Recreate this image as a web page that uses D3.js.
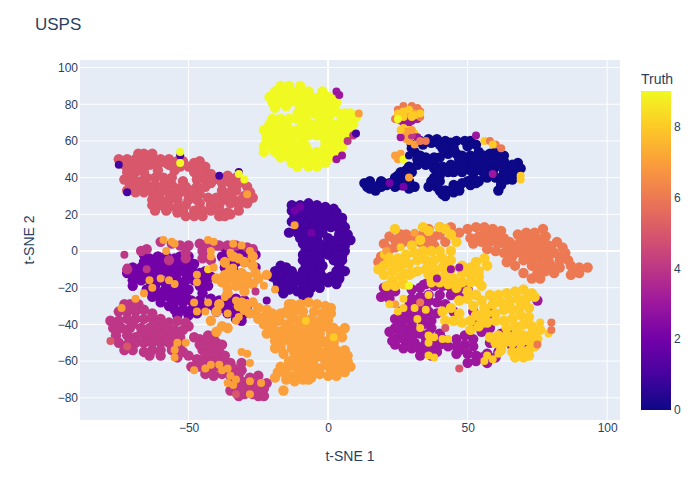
<!DOCTYPE html>
<html>
<head>
<meta charset="utf-8">
<script src="https://cdn.jsdelivr.net/npm/d3@7"></script>
<style>
  html, body { margin: 0; padding: 0; background: #fff; }
  text { font-family: "Liberation Sans", Arial, sans-serif; fill: #2a3f5f; }
</style>
</head>
<body>
<svg id="chart" width="700" height="500"></svg>
<script>
// values, one array per digit class
var truth0 = [[13,37],[15,38],[17,35],[19,38],[20,37],[15,34],[17,33],[22,37],[14,35],[19,35],[21,36],[24,35],
  [25,41],[28,44],[29,46],[25,38],[27,40],[26,36],[29,34],[31,35],[29,38],[26,43],[30,43],[24,40],[28,41],[28,36],
  [30,58],[33,60],[36,61],[39,61],[42,60],[41,56],[43,53],[31,54],[32,50],[35,51],[38,51],[40,51],[32,47],[35,47],[34,58],[37,59],[40,58],[42,57],[33,52],[34,49],[37,49],[38,48],[30,56],
  [38,45],[41,46],[44,47],[47,48],[50,49],[53,50],[40,41],[43,43],[46,45],[49,46],[52,47],[55,47],[38,40],[38,36],[36,35],[40,38],[40,33],[42,30],[45,32],[45,36],[48,37],[51,36],[54,38],[57,40],[52,40],[53,44],[57,46],[59,50],[58,53],[60,54],[63,52],[63,49],[57,42],[60,40],[62,36],[61,33],[64,39],[66,42],[63,43],[65,46],[68,48],[69,45],
  [46,60],[44,59],[44,55],[49,60],[51,60],[53,58],[54,54],[51,52],[48,52],[46,53],[45,56],[56,52],[42,33],[39,35],[47,33],[60,46],[63,46],[66,39],[42,44],[45,43],[48,43],[51,44],[39,43],[37,38],[41,31],[44,33],[50,38],[53,37],[56,42],[55,44],[59,48],[61,50],[59,43],[62,40],[62,38],[64,42],[67,44],[66,47],[50,57],[47,50],[52,50],[56,50]];
var truth1 = [[-13,25],[-10,25],[-7,26],[-4,25],[-1,24],[2,23],[-13,22],[-9,22],[-6,22],[-3,22],[0,22],[3,21],
  [-12,19],[-9,19],[-6,19],[-3,19],[0,19],[3,19],[5,18],[-13,16],[-10,16],[-7,16],[-4,16],[-1,16],[2,16],[5,15],[6,13],
  [-11,13],[-8,13],[-5,13],[-2,13],[1,13],[4,12],[-14,10],[-11,10],[-8,10],[-5,10],[-2,10],[4,9],[7,9],[-10,7],[-7,7],[-4,7],[0,7],[3,6],[6,6],[8,6],
  [-9,4],[-6,4],[-3,4],[0,4],[3,3],[6,3],[-8,1],[-5,1],[-2,1],[1,1],[4,1],[6,0],[-9,-2],[-6,-2],[-3,-2],[0,-2],[3,-2],[5,-3],
  [-9,-5],[-6,-5],[-3,-5],[2,-5],[5,-5],[-8,-8],[-5,-8],[-2,-8],[4,-8],[-17,-8],[-19,-11],[-16,-11],[-13,-11],[-9,-11],[-6,-11],[-3,-11],[3,-11],[6,-11],
  [-20,-14],[-17,-14],[-14,-14],[-11,-14],[-8,-14],[-5,-14],[-2,-14],[1,-14],[4,-15],[-18,-17],[-15,-17],[-12,-17],[-9,-17],[-6,-17],[-3,-17],[0,-17],[3,-18],
  [-17,-20],[-13,-20],[-9,-20],[-6,-20],[-3,-20],[-16,-23],[-9,-24],[-7,-23],[-15,-9],[-14,-21],[-11,-22],[-18,-20]];
var truth2 = [[-66,-2],[-61,-3],[-58,-3],[-53,-3],[-50,-3],[-66,-6],[-62,-6],[-59,-6],[-56,-6],[-53,-6],[-50,-6],[-48,-7],
  [-70,-9],[-67,-9],[-64,-9],[-61,-9],[-58,-9],[-55,-9],[-52,-9],[-49,-9],[-72,-12],[-69,-12],[-66,-12],[-63,-12],[-60,-12],[-57,-12],[-54,-12],[-51,-12],[-48,-12],
  [-70,-16],[-67,-16],[-64,-16],[-60,-16],[-57,-16],[-54,-16],[-51,-16],[-48,-16],[-70,-19],[-62,-19],[-58,-19],[-55,-19],[-52,-19],[-65,-21],[-62,-22],[-59,-22],[-56,-22],[-53,-22],[-50,-21],
  [-63,-25],[-60,-25],[-57,-25],[-54,-25],[-51,-25],[-60,-28],[-55,-28],[-52,-28],[-55,-32],[-52,-32],[-49,-32],[-46,-31],[-54,-35],[-50,-35],[-47,-34],
  [-46,-12],[-44,-11],[-47,-15],[-44,-15],[-42,-14],[-46,-19],[-43,-19],[-45,-23],[-42,-26],[-46,-27],[-44,-30],[-41,-30],[-39,-27],[-36,-26],[-33,-26],[-30,-27],
  [-38,-31],[-35,-30],[-32,-30],[-29,-30],[-36,-34],[-33,-34],[-30,-34],[-33,-37],[-31,-38],[-38,-3],[-36,0],[-33,-2],[-30,-2],[-36,-6],[-33,-6],[-30,-6],[-28,-5],[-37,-9],[-34,-10],[-26,-9],[-26,-2],[-37,2],[-32,2],
  [-64,-4],[-55,-4],[-52,-7],[-60,-10],[-56,-14],[-50,-14],[-62,-14],[-68,-14],[-58,-24],[-55,-24],[-49,-27],[-47,-29],[-57,-30],[-40,-33],[-37,-29]];
var truth3 = [[20,-20],[22,-19],[24,-22],[19,-25],[22,-26],[35,-18],[38,-19],[41,-19],[44,-20],[47,-20],[50,-21],[30,-21],[33,-20],
  [30,-26],[33,-25],[36,-24],[40,-24],[44,-24],[47,-25],[29,-30],[32,-29],[35,-30],[39,-28],[42,-29],[26,-33],[29,-34],[32,-34],[36,-33],[25,-39],[28,-37],[24,-42],[27,-42],[30,-41],
  [34,-40],[37,-42],[26,-46],[29,-46],[33,-45],[36,-45],[40,-45],[23,-49],[28,-50],[31,-50],[35,-50],[38,-49],[33,-54],[36,-54],[33,-57],[37,-57],[40,-51],
  [46,-48],[49,-46],[52,-48],[46,-52],[49,-51],[52,-52],[46,-56],[50,-56],[53,-57],[50,-61],[53,-60],[57,-61],[60,-58],[57,-56],[61,-55],[53,-40],[55,-44],[58,-42],[58,-50],[62,-45],[64,-44],
  [45,-33],[52,-33],[58,-34],[66,-52],[70,-55],[72,-53],[75,-27],[31,-37],[34,-36],[32,-44],[30,-47],[35,-47],[47,-54],[55,-58],[25,-47],[27,-48],[38,-52],[36,-27],[33,-31],
  [24,-37],[22,-44],[24,-51],[27,-53],[30,-53],[32,-52],[39,-55],[41,-48],[43,-52],[30,-44],[37,-38],[39,-34],[26,-38],[21,-23]];
var truth4 = [[-60,5],[-56,4],[-53,3],[-50,3],[-46,4],[-43,4],[-40,3],[-45,0],[-43,-2],[-42,-5],[-51,-1],[-51,-4],[-57,-5],[-65,1],[-67,0],[-39,3],[-36,3],[-33,3],[-29,2],[-27,1],[-45,-4],[-72,-10],
  [-73,-29],[-71,-29],[-68,-29],[-75,-33],[-72,-33],[-69,-33],[-66,-32],[-63,-34],[-78,-38],[-75,-38],[-72,-37],[-69,-37],[-66,-37],[-63,-37],[-60,-37],[-57,-39],[-54,-38],[-51,-39],
  [-77,-42],[-74,-42],[-71,-42],[-67,-42],[-64,-42],[-61,-42],[-58,-43],[-55,-43],[-52,-43],[-50,-41],[-76,-46],[-72,-46],[-69,-47],[-65,-46],[-62,-46],[-59,-46],[-56,-47],[-53,-47],
  [-75,-50],[-72,-51],[-69,-50],[-66,-50],[-63,-50],[-60,-50],[-57,-50],[-53,-51],[-73,-54],[-70,-54],[-66,-55],[-63,-54],[-60,-54],[-56,-54],[-52,-55],[-50,-57],[-54,-58],[-60,-57],[-64,-57],
  [-48,-47],[-46,-48],[-43,-46],[-41,-46],[-46,-51],[-43,-50],[-40,-50],[-38,-51],[-45,-54],[-42,-54],[-39,-55],[-37,-57],[-47,-59],[-44,-59],[-41,-58],[-38,-59],[-35,-61],[-49,-63],[-46,-63],[-43,-64],[-40,-63],[-37,-63],[-34,-64],[-31,-61],[-31,-65],
  [-44,-67],[-41,-68],[-38,-67],[-35,-68],[-32,-67],[-34,-72],[-31,-71],[-28,-69],[-25,-68],[-22,-72],[-35,-76],[-32,-75],[-29,-74],[-26,-73],[-23,-75],[-30,-78],[-27,-78],[-25,-79],[-23,-79],[-32,-79],
  [-70,-40],[-67,-45],[-71,-48],[-61,-40],[-58,-41],[-58,-48],[-42,-52],[-44,-56],[-40,-60],[-42,-65],[-28,-72],[-31,-77],[-26,-76]];
var truth5 = [[-68,53],[-66,53],[-63,53],[-75,50],[-72,50],[-69,50],[-66,50],[-63,50],[-60,50],[-57,50],[-54,49],[-52,49],[-46,49],
  [-73,47],[-70,47],[-67,47],[-64,47],[-61,47],[-57,47],[-53,46],[-50,46],[-46,46],[-44,46],[-72,43],[-69,43],[-66,43],[-61,44],[-55,44],[-48,43],[-45,43],[-42,42],
  [-73,39],[-70,40],[-65,40],[-62,40],[-59,40],[-56,40],[-52,38],[-47,39],[-44,39],[-41,39],[-36,41],[-33,40],[-71,36],[-68,36],[-65,36],[-62,36],[-59,36],[-56,36],[-51,35],[-47,35],[-44,35],[-38,37],[-35,37],[-32,37],[-29,35],
  [-69,32],[-66,32],[-63,32],[-60,32],[-57,32],[-53,32],[-50,31],[-46,31],[-38,33],[-35,32],[-28,32],[-27,29],[-72,33],[-63,28],[-60,28],[-57,28],[-54,28],[-50,28],[-47,28],[-43,29],[-40,29],[-37,28],[-34,28],[-31,28],
  [-63,25],[-60,25],[-57,24],[-54,24],[-51,25],[-46,26],[-42,25],[-39,25],[-35,26],[-32,25],[-29,26],[-62,22],[-58,22],[-54,21],[-52,22],[-48,22],[-45,22],[-42,22],[-39,22],[-36,21],[-32,22],[-51,19],[-48,19],[-45,19],[-39,19],[-37,19],[-35,20],
  [-65,48],[-58,48],[-55,47],[-48,48],[-67,38],[-58,38],[-54,34],[-49,33],[-42,37],[-61,30],[-56,30],[-48,30],[-33,33],[-30,30],[-40,27],[-37,30]];
var truth6 = [[20,4],[22,8],[24,6],[26,9],[28,9],[30,8],[32,8],[34,9],[36,8],[38,8],[24,2],[27,5],[30,5],[33,5],[36,4],[18,-6],[19,-3],
  [21,-1],[22,1],[40,9],[44,10],[47,10],[50,12],[53,13],[56,13],[59,12],[62,11],[51,7],[54,8],[57,9],[60,8],[63,7],[52,4],[55,5],[58,5],[61,4],[64,3],[57,1],[60,0],[63,-1],[66,0],
  [68,9],[71,10],[74,10],[77,12],[69,6],[72,7],[75,7],[78,8],[67,3],[70,3],[73,3],[76,3],[79,3],[82,5],[84,2],[69,-1],[72,-1],[75,0],[78,-1],[81,-1],[85,-1],
  [66,-3],[70,-5],[73,-5],[76,-4],[79,-5],[83,-5],[86,-5],[64,-6],[67,-8],[73,-8],[76,-8],[80,-8],[83,-9],[87,-8],[90,-9],[93,-9],[90,-12],[87,-13],[70,-12],[75,-12],[78,-11],[73,-15],[76,-15],[81,-12],
  [36,12],[40,13],[44,13],[38,3],[42,5],[56,11],[61,6],[65,5],[74,5],[71,1],[77,5],[80,1],[83,-3],[78,-7],[73,-2],[88,-11]];
var truth7 = [[-32,-30],[-29,-29],[-27,-28],[-25,-31],[-22,-32],[-20,-34],[-17,-34],[-23,-36],[-20,-37],[-18,-38],[-15,-40],[-15,-34],[-13,-36],
  [-13,-29],[-10,-29],[-7,-28],[-4,-29],[-1,-30],[1,-31],[-15,-33],[-12,-33],[-9,-33],[-5,-33],[-2,-34],[1,-34],[-12,-37],[-9,-37],[-6,-37],[-3,-38],[0,-38],[-16,-43],[-13,-42],[-10,-41],[-7,-41],[-4,-41],[-1,-41],
  [-15,-46],[-12,-45],[-9,-45],[-6,-45],[-3,-45],[-14,-49],[-11,-49],[-8,-49],[-5,-49],[-2,-49],[1,-47],[-17,-52],[-13,-53],[-10,-53],[-7,-53],[-4,-52],[-1,-50],[2,-50],
  [-16,-56],[-12,-56],[-9,-57],[-6,-56],[-3,-55],[0,-54],[3,-54],[6,-54],[-14,-60],[-11,-60],[-8,-60],[-5,-59],[-2,-58],[1,-58],[4,-58],[7,-57],[-17,-63],[-14,-63],[-11,-64],[-8,-63],[-5,-63],[-1,-62],[2,-62],[5,-62],[7,-60],
  [-18,-66],[-15,-67],[-12,-68],[-9,-67],[-6,-66],[1,-65],[4,-65],[-12,-71],[-9,-70],[-7,-70],[-16,-66],[-19,-69],[-22,-45],[-20,-45],[-19,-49],[-14,-29],[-16,-76],
  [-37,-6],[-34,-3],[-32,-4],[-30,-6],[-27,-3],[-27,-8],[-35,-10],[-40,-15],[-37,-13],[-34,-12],[-31,-12],[-38,-17],[-35,-15],[-32,-15],[-29,-14],[-26,-12],[-25,-15],[-22,-13],[-36,-20],[-33,-19],[-30,-19],[-27,-18],[-30,-22],[-36,-23],[-31,-28],
  [-39,-29],[-40,-33],[-42,-38],[-38,-41],[-40,-44],[-36,-42],[8,-63],[6,-66],[3,-68],[0,-68],[-3,-67],[-3,-64],[-6,-69],[-9,-65],[-15,-70],[-6,-50],[-13,-47],[-10,-43],
  [-26,-34],[-23,-40],[-20,-41],[-18,-44],[-21,-42],[-17,-48],[-19,-53],[-30,-32],[-28,-34],[-25,-37],[4,-44],[6,-42],[2,-42],[5,-47],[1,-44]];
var truth8 = [[24,12],[30,3],[34,13],[33,6],[36,11],[40,13],[42,12],[44,9],[46,5],
  [18,-10],[20,-8],[22,-6],[25,-4],[28,-2],[31,-1],[34,0],[37,0],[40,0],[44,0],[20,-13],[23,-11],[26,-9],[29,-7],[32,-5],[35,-5],[38,-5],[41,-4],[44,-5],[23,-16],[26,-14],[29,-13],[32,-11],[35,-10],[38,-10],[41,-9],[44,-10],[48,-8],[51,-9],[54,-11],
  [21,-19],[24,-19],[27,-18],[36,-13],[39,-14],[42,-13],[45,-15],[48,-12],[51,-13],[54,-14],[57,-8],[53,-6],[56,-4],[37,-17],[40,-17],[43,-18],[48,-17],[51,-17],[54,-17],[55,-19],
  [46,-20],[50,-22],[53,-24],[50,-26],[47,-27],[52,-30],[55,-27],[58,-24],[61,-24],[64,-23],[67,-22],[70,-21],[73,-23],[56,-31],[59,-29],[62,-28],[65,-27],[68,-26],[71,-26],[74,-25],[54,-35],[57,-34],[60,-34],[63,-32],[66,-32],[69,-30],[72,-31],
  [41,-33],[44,-31],[47,-34],[51,-38],[53,-35],[42,-38],[45,-38],[48,-39],[51,-43],[54,-41],[57,-39],[60,-38],[63,-38],[66,-37],[69,-35],[72,-36],[64,-42],[67,-41],[70,-40],[73,-41],[61,-46],[64,-46],[67,-46],[70,-46],[73,-45],[76,-43],
  [58,-47],[60,-50],[63,-50],[66,-50],[69,-50],[72,-49],[75,-48],[62,-54],[66,-55],[69,-54],[72,-54],[74,-52],[70,-58],[67,-58],[72,-57],[30,-12],[27,-5],[24,-8],[34,-3],[36,-8],[43,-7],[60,-27],[65,-30],[55,-38],[68,-44]];
var truth9 = [[-17,90],[-14,90],[-10,90],[-19,87],[-16,87],[-13,87],[-10,87],[-7,87],[-2,87],[-21,84],[-18,84],[-15,84],[-12,84],[-9,84],[-6,84],[-3,84],[0,84],[2,83],
  [-20,81],[-17,81],[-14,81],[-11,81],[-8,81],[-5,81],[-2,81],[1,81],[3,81],[-19,78],[-15,79],[-10,78],[-7,78],[-4,78],[-1,78],[2,78],[-11,75],[-8,75],[-5,75],[-2,75],[1,75],[4,75],[6,75],[8,75],
  [-20,72],[-17,72],[-14,72],[-11,72],[-8,72],[-3,72],[0,72],[5,72],[8,72],[10,73],[-21,69],[-18,69],[-15,69],[-9,69],[-6,69],[-3,69],[0,69],[3,69],[6,69],[9,69],
  [-23,66],[-20,66],[-17,66],[-14,66],[-11,66],[-8,66],[-5,66],[-2,66],[1,66],[4,66],[7,66],[-22,63],[-19,63],[-16,63],[-13,63],[-10,63],[-7,63],[-4,63],[-1,63],[2,63],[5,63],[7,63],
  [-22,60],[-19,60],[-16,60],[-13,60],[-9,60],[-1,60],[2,60],[5,60],[-23,57],[-20,57],[-17,57],[-14,57],[-11,57],[-8,57],[-1,57],[2,57],[5,57],[-23,54],[-19,54],[-16,54],[-13,54],[-10,54],[-7,54],[-4,54],[-1,54],[2,54],[4,54],
  [-17,51],[-14,51],[-11,51],[-8,51],[-5,51],[-2,51],[1,51],[-13,48],[-10,48],[-7,48],[-4,48],[-1,48],[-11,46],[-7,46],[-4,46]];
// mislabelled points, these sit on top of the big clusters: [x, y, truth]
var strays = [[-75,47,1],[-72,32,1],[-39,41,1],[-53,52,1],[-32,43,1],[-53,54,9],[-53,48,9],[-32,42,9],[-30,39,9],[-29,31,7],
  [4,85,3],[3,87,3],[5,52,3],[3,50,3],[7,60,4],[9,63,4],[10,64,1],[11,75,7],[-12,14,7],[-6,10,2],[-12,22,2],[-10,24,2],
  [25,74,6],[24,72,6],[26,71,6],[28,72,3],[30,71,3],[32,72,3],[27,70,3],[29,70,3],[25,77,6],[27,79,6],[30,79,6],[32,78,6],[33,76,6],[33,73,6],[28,75,7],[31,75,7],[27,76,8],[29,77,8],[31,74,8],[25,75,8],[33,75,8],[27,73,8],[30,73,8],[25,72,9],
  [27,67,8],[29,66,8],[31,64,8],[27,63,3],[29,64,7],[32,62,3],[28,61,7],[29,60,7],[30,63,4],[26,62,3],[28,65,7],[30,66,7],[26,66,8],[24,52,7],[26,53,7],[25,50,7],[27,50,9],[29,52,0],[29,40,7],[22,37,2],[27,35,2],
  [53,63,3],[56,60,8],[58,60,6],[60,58,6],[62,56,6],[59,58,8],[69,41,8],[69,39,8],[59,42,3],[31,58,7],[33,60,6],[35,60,6],
  [-73,-2,4],[-72,-9,4],[-65,-10,4],[-64,-16,7],[-63,-20,7],[-60,-15,7],[-69,-26,7],[-66,-23,7],[-57,-16,7],[-55,-18,7],[-47,-13,7],[-47,-17,7],[-59,6,7],[-56,5,7],[-55,4,7],[-58,0,7],[-43,6,7],[-41,5,7],[-42,0,7],[-42,-3,7],[-37,-7,7],[-35,-1,7],[-34,4,7],[-31,3,7],[-28,0,7],
  [-43,-10,8],[-41,-9,7],[-34,-9,7],[-43,-28,7],[-48,-28,7],[-44,-33,7],[-47,-33,7],[-37,-25,7],[-33,-27,7],[-31,-29,7],[-36,-34,7],[-27,-28,7],[-33,-38,7],[-32,-36,7],[-26,-22,4],[-23,-19,7],[-19,-21,7],[-74,-31,7],[-78,-49,5],[-72,-52,5],
  [-54,-50,7],[-51,-50,7],[-55,-54,7],[-55,-58,7],[-42,-62,7],[-44,-64,7],[-39,-62,7],[-38,-65,7],[-36,-64,7],[-48,-65,7],[-35,-68,7],[-33,-70,7],[-36,-72,7],[-34,-73,7],[-28,-71,7],[-24,-72,7],[-28,-78,7],[-33,-78,5],[-28,-61,7],[-29,-56,7],[-31,-55,7],
  [-8,-38,8],[2,-47,8],[-17,-38,7],[-22,-27,2],
  [31,10,7],[20,-2,8],[21,-6,8],[26,2,8],[21,0,7],[22,-3,8],[28,-12,8],[29,-19,9],[44,-10,3],[34,-18,3],[39,-15,3],[47,-9,3],[24,-29,7],[27,-26,8],[22,-29,8],[27,-31,8],[25,-33,8],[31,-31,8],[36,-24,8],[33,-28,6],[35,-32,8],[32,-37,8],[33,-42,8],[36,-46,8],[36,-50,8],[38,-47,8],[36,-57,8],[38,-58,8],[41,-48,8],[43,-48,8],[42,-42,5],[47,-64,5],[57,-57,8],[56,-60,8],[59,-59,8],[61,-56,8],
  [76,-39,8],[79,-45,8],[80,-39,6],[80,-43,6],[75,-51,6]];

var digits = [truth0, truth1, truth2, truth3, truth4, truth5, truth6, truth7, truth8, truth9];
var draw_order = [0, 1, 2, 4, 5, 9, 3, 6, 7, 8];

var plasma = ['#0d0887','#46039f','#7201a8','#9c179e','#bd3786','#d8576b','#ed7953','#fb9f3a','#fdca26','#f0f921'];
var x_ticks = [-50, 0, 50, 100];
var y_ticks = [-80, -60, -40, -20, 0, 20, 40, 60, 80, 100];
var cbar_ticks = [0, 2, 4, 6, 8];

var svg = d3.select('#chart');

var x_scale = d3.scaleLinear().domain([-88.9, 104.6]).range([80, 620]);
var y_scale = d3.scaleLinear().domain([-92.1, 104.1]).range([420, 60]);
var color = d3.scaleLinear().domain(d3.range(10)).range(plasma);

svg.append('rect')
  .attr('x', 80).attr('y', 60)
  .attr('width', 540).attr('height', 360)
  .attr('fill', '#E5ECF6');

// grid lines, zero lines are drawn heavier
svg.selectAll('.x_grid').data(x_ticks).enter().append('line')
  .attr('class', 'x_grid')
  .attr('x1', function(d){ return x_scale(d); })
  .attr('x2', function(d){ return x_scale(d); })
  .attr('y1', 60).attr('y2', 420)
  .attr('stroke', '#fff')
  .attr('stroke-width', function(d){ return d === 0 ? 2 : 1; });

svg.selectAll('.y_grid').data(y_ticks).enter().append('line')
  .attr('class', 'y_grid')
  .attr('y1', function(d){ return y_scale(d); })
  .attr('y2', function(d){ return y_scale(d); })
  .attr('x1', 80).attr('x2', 620)
  .attr('stroke', '#fff')
  .attr('stroke-width', function(d){ return d === 0 ? 2 : 1; });

var points = svg.append('g').attr('class', 'points');

// the big clusters need a slightly fatter dot to close up, there are fewer
// points here than in the original
draw_order.forEach(function(k){
  points.selectAll('.digit' + k).data(digits[k]).enter().append('circle')
    .attr('class', 'digit' + k)
    .attr('cx', function(d){ return x_scale(d[0]); })
    .attr('cy', function(d){ return y_scale(d[1]); })
    .attr('r', 5.2)
    .attr('fill', color(k));
});

points.selectAll('.stray').data(strays).enter().append('circle')
  .attr('class', 'stray')
  .attr('cx', function(d){ return x_scale(d[0]); })
  .attr('cy', function(d){ return y_scale(d[1]); })
  .attr('r', 4)
  .attr('fill', function(d){ return color(d[2]); });

// axes
var x_axis = d3.axisBottom(x_scale).tickValues(x_ticks).tickSize(0).tickPadding(3);
var y_axis = d3.axisLeft(y_scale).tickValues(y_ticks).tickSize(0).tickPadding(2);

var gx = svg.append('g').attr('transform', 'translate(0,420)').call(x_axis);
var gy = svg.append('g').attr('transform', 'translate(80,0)').call(y_axis);
gx.select('.domain').remove();
gy.select('.domain').remove();
gx.selectAll('text').attr('font-size', 12);
gy.selectAll('text').attr('font-size', 12);

svg.append('text')
  .attr('x', 35).attr('y', 30)
  .attr('font-size', 17)
  .text('USPS');

svg.append('text')
  .attr('x', 350).attr('y', 461)
  .attr('text-anchor', 'middle')
  .attr('font-size', 14)
  .text('t-SNE 1');

svg.append('text')
  .attr('transform', 'translate(34,240) rotate(-90)')
  .attr('text-anchor', 'middle')
  .attr('font-size', 14)
  .text('t-SNE 2');

// colorbar
var cbar_scale = d3.scaleLinear().domain([0, 9]).range([410, 91]);
var grad = svg.append('defs').append('linearGradient')
  .attr('id', 'plasma_grad')
  .attr('x1', 0).attr('x2', 0).attr('y1', 1).attr('y2', 0);

grad.selectAll('stop').data(plasma).enter().append('stop')
  .attr('offset', function(d, i){ return i / 9; })
  .attr('stop-color', function(d){ return d; });

svg.append('rect')
  .attr('x', 641).attr('y', 91)
  .attr('width', 30).attr('height', 319)
  .attr('fill', 'url(#plasma_grad)');

var cbar_axis = d3.axisRight(cbar_scale).tickValues(cbar_ticks).tickSize(0).tickPadding(3);
var gc = svg.append('g').attr('transform', 'translate(671,0)').call(cbar_axis);
gc.select('.domain').remove();
gc.selectAll('text').attr('font-size', 12);

svg.append('text')
  .attr('x', 641).attr('y', 84)
  .attr('font-size', 14)
  .text('Truth');
</script>
</body>
</html>
